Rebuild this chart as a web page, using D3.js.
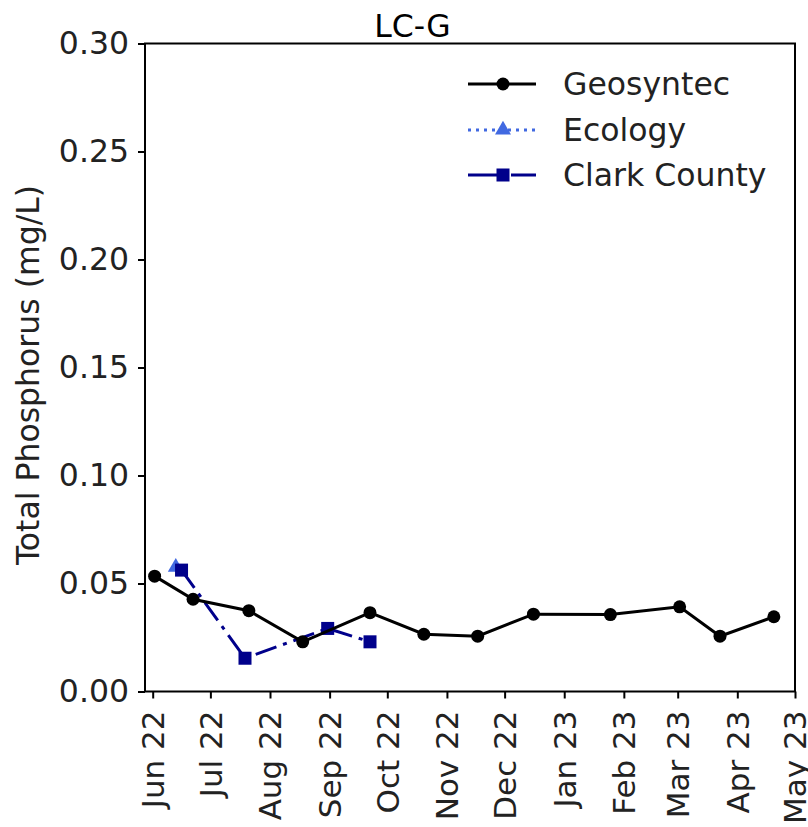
<!DOCTYPE html>
<html>
<head>
<meta charset="utf-8">
<script src="https://cdn.jsdelivr.net/npm/d3@7"></script>
<style>
  html, body { margin: 0; padding: 0; background: #fff; }
  svg { display: block; font-family: "DejaVu Sans", sans-serif; }
</style>
</head>
<body>
<svg id="chart" width="808" height="827"></svg>
<script>
// ---- data ----
const title = "LC-G";
const yLabel = "Total Phosphorus (mg/L)";
const seriesNames = ["Geosyntec", "Ecology", "Clark County"];

const geosyntecDates = ["2022-06-02","2022-06-22","2022-07-21","2022-08-18","2022-09-22","2022-10-20","2022-11-17","2022-12-16","2023-01-25","2023-03-02","2023-03-23","2023-04-20"];
const geosyntecValues = [0.0534,0.0427,0.0374,0.0230,0.0365,0.0265,0.0256,0.0358,0.0356,0.0392,0.0256,0.0346];

const ecologyDates = ["2022-06-13"];
const ecologyValues = [0.0576];

const clarkDates = ["2022-06-16","2022-07-19","2022-08-31","2022-09-22"];
const clarkValues = [0.0562,0.0154,0.0292,0.0230];

const xDomain = ["2022-05-28","2023-05-01"];
const yDomain = [0, 0.30];
const yTicks = [0.00,0.05,0.10,0.15,0.20,0.25,0.30];
const xTickDates = ["2022-06-01","2022-07-01","2022-08-01","2022-09-01","2022-10-01","2022-11-01","2022-12-01","2023-01-01","2023-02-01","2023-03-01","2023-04-01","2023-05-01"];

// ---- layout ----
const parse = d3.utcParse("%Y-%m-%d");
const svg = d3.select("#chart");
const L = 145, R = 795, T = 43.5, B = 691.5;

const x = d3.scaleUtc().domain(xDomain.map(parse)).range([L, R]);
const y = d3.scaleLinear().domain(yDomain).range([B, T]);

const fs = 31.5;
const txtCol = "#222";

// title
svg.append("text").attr("x", 412.5).attr("y", 37).attr("text-anchor", "middle")
  .attr("font-size", fs).attr("fill", "#000").text(title);

// frame
svg.append("rect").attr("x", L).attr("y", T).attr("width", R - L).attr("height", B - T)
  .attr("fill", "none").attr("stroke", "#000").attr("stroke-width", 2);

// y axis
const yAxis = d3.axisLeft(y).tickValues(yTicks).tickFormat(d3.format(".2f")).tickSize(7).tickPadding(9);
const gy = svg.append("g").attr("transform", `translate(${L},0)`).call(yAxis);
gy.select(".domain").remove();
gy.selectAll(".tick line").attr("stroke", "#000").attr("stroke-width", 2);
gy.selectAll(".tick text").attr("font-size", fs).attr("font-family", "DejaVu Sans, sans-serif").attr("fill", txtCol);

// x axis
const xAxis = d3.axisBottom(x).tickValues(xTickDates.map(parse)).tickFormat(d3.utcFormat("%b %y")).tickSize(7).tickPadding(8);
const gx = svg.append("g").attr("transform", `translate(0,${B})`).call(xAxis);
gx.select(".domain").remove();
gx.selectAll(".tick line").attr("stroke", "#000").attr("stroke-width", 2);
gx.selectAll(".tick text")
  .attr("font-size", 31).attr("font-family", "DejaVu Sans, sans-serif").attr("fill", txtCol)
  .attr("text-anchor", "end").attr("dy", "0.35em")
  .attr("transform", "rotate(-90)")
  .attr("x", -19).attr("y", 0);

// y label
svg.append("text").attr("transform", `translate(39,375) rotate(-90)`)
  .attr("text-anchor", "middle").attr("font-size", fs).attr("fill", txtCol).text(yLabel);

// series
const mk = (dates, vals) => dates.map((d, i) => ({ date: parse(d), v: vals[i] }));
const geo = mk(geosyntecDates, geosyntecValues);
const eco = mk(ecologyDates, ecologyValues);
const clark = mk(clarkDates, clarkValues);

const line = d3.line().x(d => x(d.date)).y(d => y(d.v));

const colGeo = "#000000", colEco = "#4169E1", colClark = "#00008B";

// Ecology
svg.append("path").datum(eco).attr("d", line).attr("fill", "none")
  .attr("stroke", colEco).attr("stroke-width", 3).attr("stroke-dasharray", "3,5");
const tri = d3.symbol().type(d3.symbolTriangle).size(110);
svg.selectAll(".eco").data(eco).join("path")
  .attr("transform", d => `translate(${x(d.date)},${y(d.v)})`).attr("d", tri).attr("fill", colEco);

// Clark County
svg.append("path").datum(clark).attr("d", line).attr("fill", "none")
  .attr("stroke", colClark).attr("stroke-width", 3).attr("stroke-dasharray", "22,7,4,7");
svg.selectAll(".clark").data(clark).join("rect")
  .attr("x", d => x(d.date) - 6.5).attr("y", d => y(d.v) - 6.5)
  .attr("width", 13).attr("height", 13).attr("fill", colClark);

// Geosyntec
svg.append("path").datum(geo).attr("d", line).attr("fill", "none")
  .attr("stroke", colGeo).attr("stroke-width", 3);
svg.selectAll(".geo").data(geo).join("circle")
  .attr("cx", d => x(d.date)).attr("cy", d => y(d.v)).attr("r", 6.5).attr("fill", colGeo);

// legend
const lg = svg.append("g");
const rows = [84, 130, 175];
const lx0 = 468, lx1 = 536, lxm = 503, ltx = 563;
// Geosyntec
lg.append("line").attr("x1", lx0).attr("x2", lx1).attr("y1", rows[0]).attr("y2", rows[0]).attr("stroke", colGeo).attr("stroke-width", 3);
lg.append("circle").attr("cx", lxm).attr("cy", rows[0]).attr("r", 6.5).attr("fill", colGeo);
// Ecology
lg.append("line").attr("x1", lx0).attr("x2", lx1).attr("y1", rows[1]).attr("y2", rows[1]).attr("stroke", colEco).attr("stroke-width", 3).attr("stroke-dasharray", "3,5");
lg.append("path").attr("transform", `translate(${lxm},${rows[1]})`).attr("d", tri).attr("fill", colEco);
// Clark
lg.append("line").attr("x1", lx0).attr("x2", lx1).attr("y1", rows[2]).attr("y2", rows[2]).attr("stroke", colClark).attr("stroke-width", 3).attr("stroke-dasharray", "30,5,3,5");
lg.append("rect").attr("x", lxm - 6.5).attr("y", rows[2] - 6.5).attr("width", 13).attr("height", 13).attr("fill", colClark);
lg.selectAll(".lt").data(seriesNames).join("text")
  .attr("x", ltx).attr("y", (d, i) => rows[i]).attr("dy", "0.35em")
  .attr("font-size", fs).attr("fill", txtCol).text(d => d);
</script>
</body>
</html>
